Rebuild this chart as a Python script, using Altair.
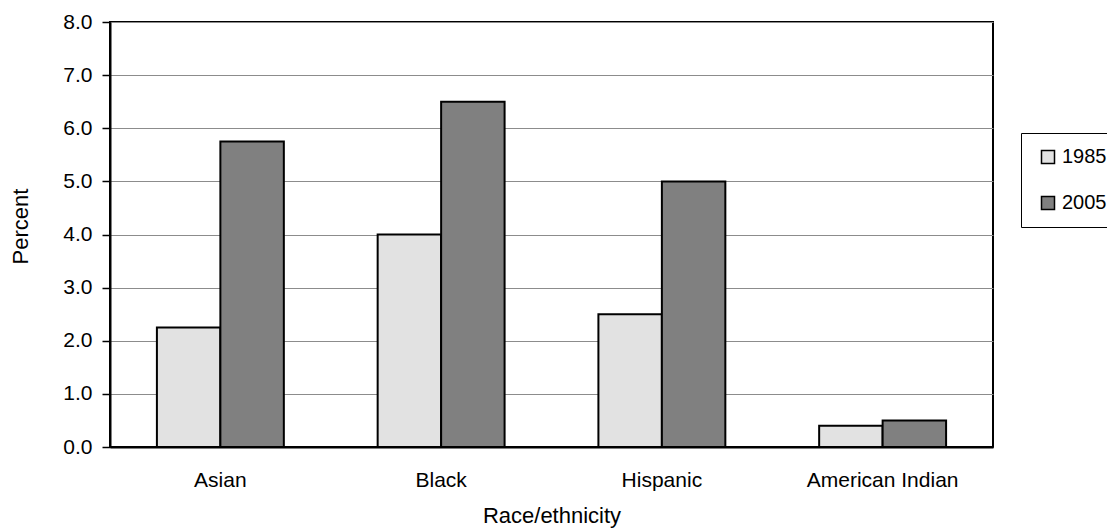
import altair as alt
import pandas as pd

categories = ["Asian", "Black", "Hispanic", "American Indian"]
years = ["1985", "2005"]
values_1985 = [2.25, 4.0, 2.5, 0.4]
values_2005 = [5.75, 6.5, 5.0, 0.5]

rows = []
for c, v1, v2 in zip(categories, values_1985, values_2005):
    rows.append({"race": c, "year": "1985", "pct": v1})
    rows.append({"race": c, "year": "2005", "pct": v2})
df = pd.DataFrame(rows)

FONT = "Liberation Sans"

chart = alt.Chart(df).mark_bar(stroke="black", strokeWidth=2).encode(
    x=alt.X("race:N", sort=categories,
            scale=alt.Scale(paddingInner=0.425, paddingOuter=0.2125),
            axis=alt.Axis(title="Race/ethnicity", labelAngle=0, ticks=False, tickSize=0,
                          labelPadding=22, labelFontSize=21, labelFont=FONT, labelColor="black",
                          titleFontSize=22, titleFont=FONT, titleFontWeight="normal", titleColor="black",
                          titleY=68, titleBaseline="middle",
                          domainColor="black", domainWidth=2, grid=False)),
    xOffset=alt.XOffset("year:N", sort=years),
    y=alt.Y("pct:Q", scale=alt.Scale(domain=[0, 8], nice=False),
            axis=alt.Axis(title="Percent", values=[0, 1, 2, 3, 4, 5, 6, 7, 8], format=".1f",
                          tickSize=8, tickColor="black", tickWidth=1.5,
                          labelPadding=10, labelFontSize=21, labelFont=FONT, labelColor="black",
                          titleFontSize=22, titleFont=FONT, titleFontWeight="normal", titleColor="black",
                          titleAngle=-90, titleX=-90, titleY=204, titleAlign="center", titleBaseline="middle",
                          domainColor="black", domainWidth=2,
                          grid=True, gridColor="#8c8c8c", gridWidth=1)),
    color=alt.Color("year:N", sort=years,
                    scale=alt.Scale(domain=years, range=["#e2e2e2", "#808080"]),
                    legend=alt.Legend(title=None, orient="none", legendX=911, legendY=111,
                                      padding=14, strokeColor="black", fillColor="white",
                                      symbolType="square", symbolSize=169, symbolStrokeWidth=1.5,
                                      symbolStrokeColor="black", symbolOffset=3,
                                      labelFontSize=20, labelFont=FONT, labelColor="black",
                                      labelOffset=4, rowPadding=26)),
).properties(
    width=883, height=425,
    autosize=alt.AutoSizeParams(type="none"),
    padding={"left": 102, "top": 14, "right": 114, "bottom": 81},
).configure_view(stroke="black", strokeWidth=2)

chart.save("out.html", embed_options={"renderer": "svg", "actions": False})
